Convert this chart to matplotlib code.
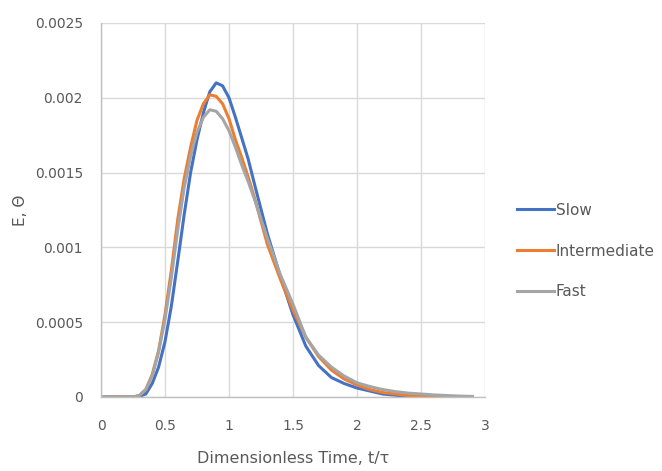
import matplotlib
matplotlib.use("Agg")
import matplotlib.pyplot as plt

x = [0, 0.1, 0.2, 0.25, 0.3, 0.35, 0.4, 0.45, 0.5, 0.55, 0.6, 0.65, 0.7, 0.75, 0.8,
     0.85, 0.9, 0.95, 1.0, 1.05, 1.1, 1.15, 1.2, 1.3, 1.4, 1.5, 1.6, 1.7, 1.8, 1.9,
     2.0, 2.1, 2.2, 2.3, 2.4, 2.5, 2.6, 2.7, 2.8, 2.9]

slow = [0, 0, 0, 0, 0.000005, 0.00002, 0.00009, 0.0002, 0.00037, 0.00061, 0.00091,
        0.00122, 0.0015, 0.00172, 0.00190, 0.00204, 0.0021, 0.00208, 0.002, 0.00187,
        0.00173, 0.00159, 0.00142, 0.00109, 0.00081, 0.00055, 0.00034, 0.00021,
        0.00013, 0.00009, 0.00006, 0.00004, 0.00002, 0.000012, 0.000005, 0.000003,
        0.000002, 0.000001, 0.000002, 0.0]

intermediate = [0, 0, 0, 0, 0.00001, 0.00005, 0.00015, 0.00031, 0.00055, 0.00085,
                0.00119, 0.00146, 0.00167, 0.00185, 0.00196, 0.00202, 0.00201,
                0.00196, 0.00186, 0.00172, 0.0016, 0.00147, 0.00133, 0.00102,
                0.00079, 0.00058, 0.0004, 0.00027, 0.00018, 0.00012, 0.00008,
                0.00005, 0.00003, 0.00002, 0.00001, 0.000007, 0.000004, 0.000003,
                0.000002, 0.000001]

fast = [0, 0, 0, 0, 0.00001, 0.00005, 0.00014, 0.0003, 0.00052, 0.0008, 0.00112,
        0.0014, 0.00161, 0.00177, 0.00187, 0.00192, 0.00191, 0.00186, 0.00178,
        0.00167, 0.00155, 0.00144, 0.00132, 0.00106, 0.00082, 0.00062, 0.0004,
        0.00028, 0.0002, 0.00014, 0.000095, 0.00007, 0.00005, 0.000036, 0.000026,
        0.00002, 0.000014, 0.00001, 0.000006, 0.000004]

series_names = ["Slow", "Intermediate", "Fast"]
colors = ["#4472C4", "#ED7D31", "#A5A5A5"]
xticks = [0, 0.5, 1, 1.5, 2, 2.5, 3]
xticklabels = ["0", "0.5", "1", "1.5", "2", "2.5", "3"]
yticks = [0, 0.0005, 0.001, 0.0015, 0.002, 0.0025]
yticklabels = ["0", "0.0005", "0.001", "0.0015", "0.002", "0.0025"]

plt.rcParams['font.family'] = ['DejaVu Sans']

fig = plt.figure(figsize=(6.62, 4.71), dpi=100)
ax = fig.add_axes([101/662, 1 - 397/471, (485 - 101)/662, (397 - 23)/471])

for name, ys, c in zip(series_names, [slow, intermediate, fast], colors):
    ax.plot(x, ys, color=c, lw=2.2, label=name, solid_joinstyle='round')

ax.set_xlim(0, 3)
ax.set_ylim(0, 0.0025)
ax.set_xticks(xticks)
ax.set_xticklabels(xticklabels)
ax.set_yticks(yticks)
ax.set_yticklabels(yticklabels)
ax.grid(True, color="#D9D9D9", lw=1.0)
ax.set_axisbelow(True)
for s in ["top", "right"]:
    ax.spines[s].set_visible(False)
for s in ["left", "bottom"]:
    ax.spines[s].set_color("#BFBFBF")
    ax.spines[s].set_linewidth(1.0)
ax.tick_params(axis='both', length=0, labelsize=10, labelcolor="#595959")
ax.tick_params(axis='x', pad=16)
ax.tick_params(axis='y', pad=13)

ax.set_xlabel("Dimensionless Time, t/τ", fontsize=11.5, color="#595959", labelpad=13)
ax.set_ylabel("E, Θ", fontsize=11, color="#595959", labelpad=5)

leg = ax.legend(loc='center left', bbox_to_anchor=(517/662, 1 - 251/471),
                bbox_transform=fig.transFigure, frameon=False, fontsize=11,
                handlelength=2.4, handletextpad=0.15, labelspacing=1.68,
                borderaxespad=0, borderpad=0)
for t in leg.get_texts():
    t.set_color("#595959")

fig.savefig("out.png", dpi=100)
